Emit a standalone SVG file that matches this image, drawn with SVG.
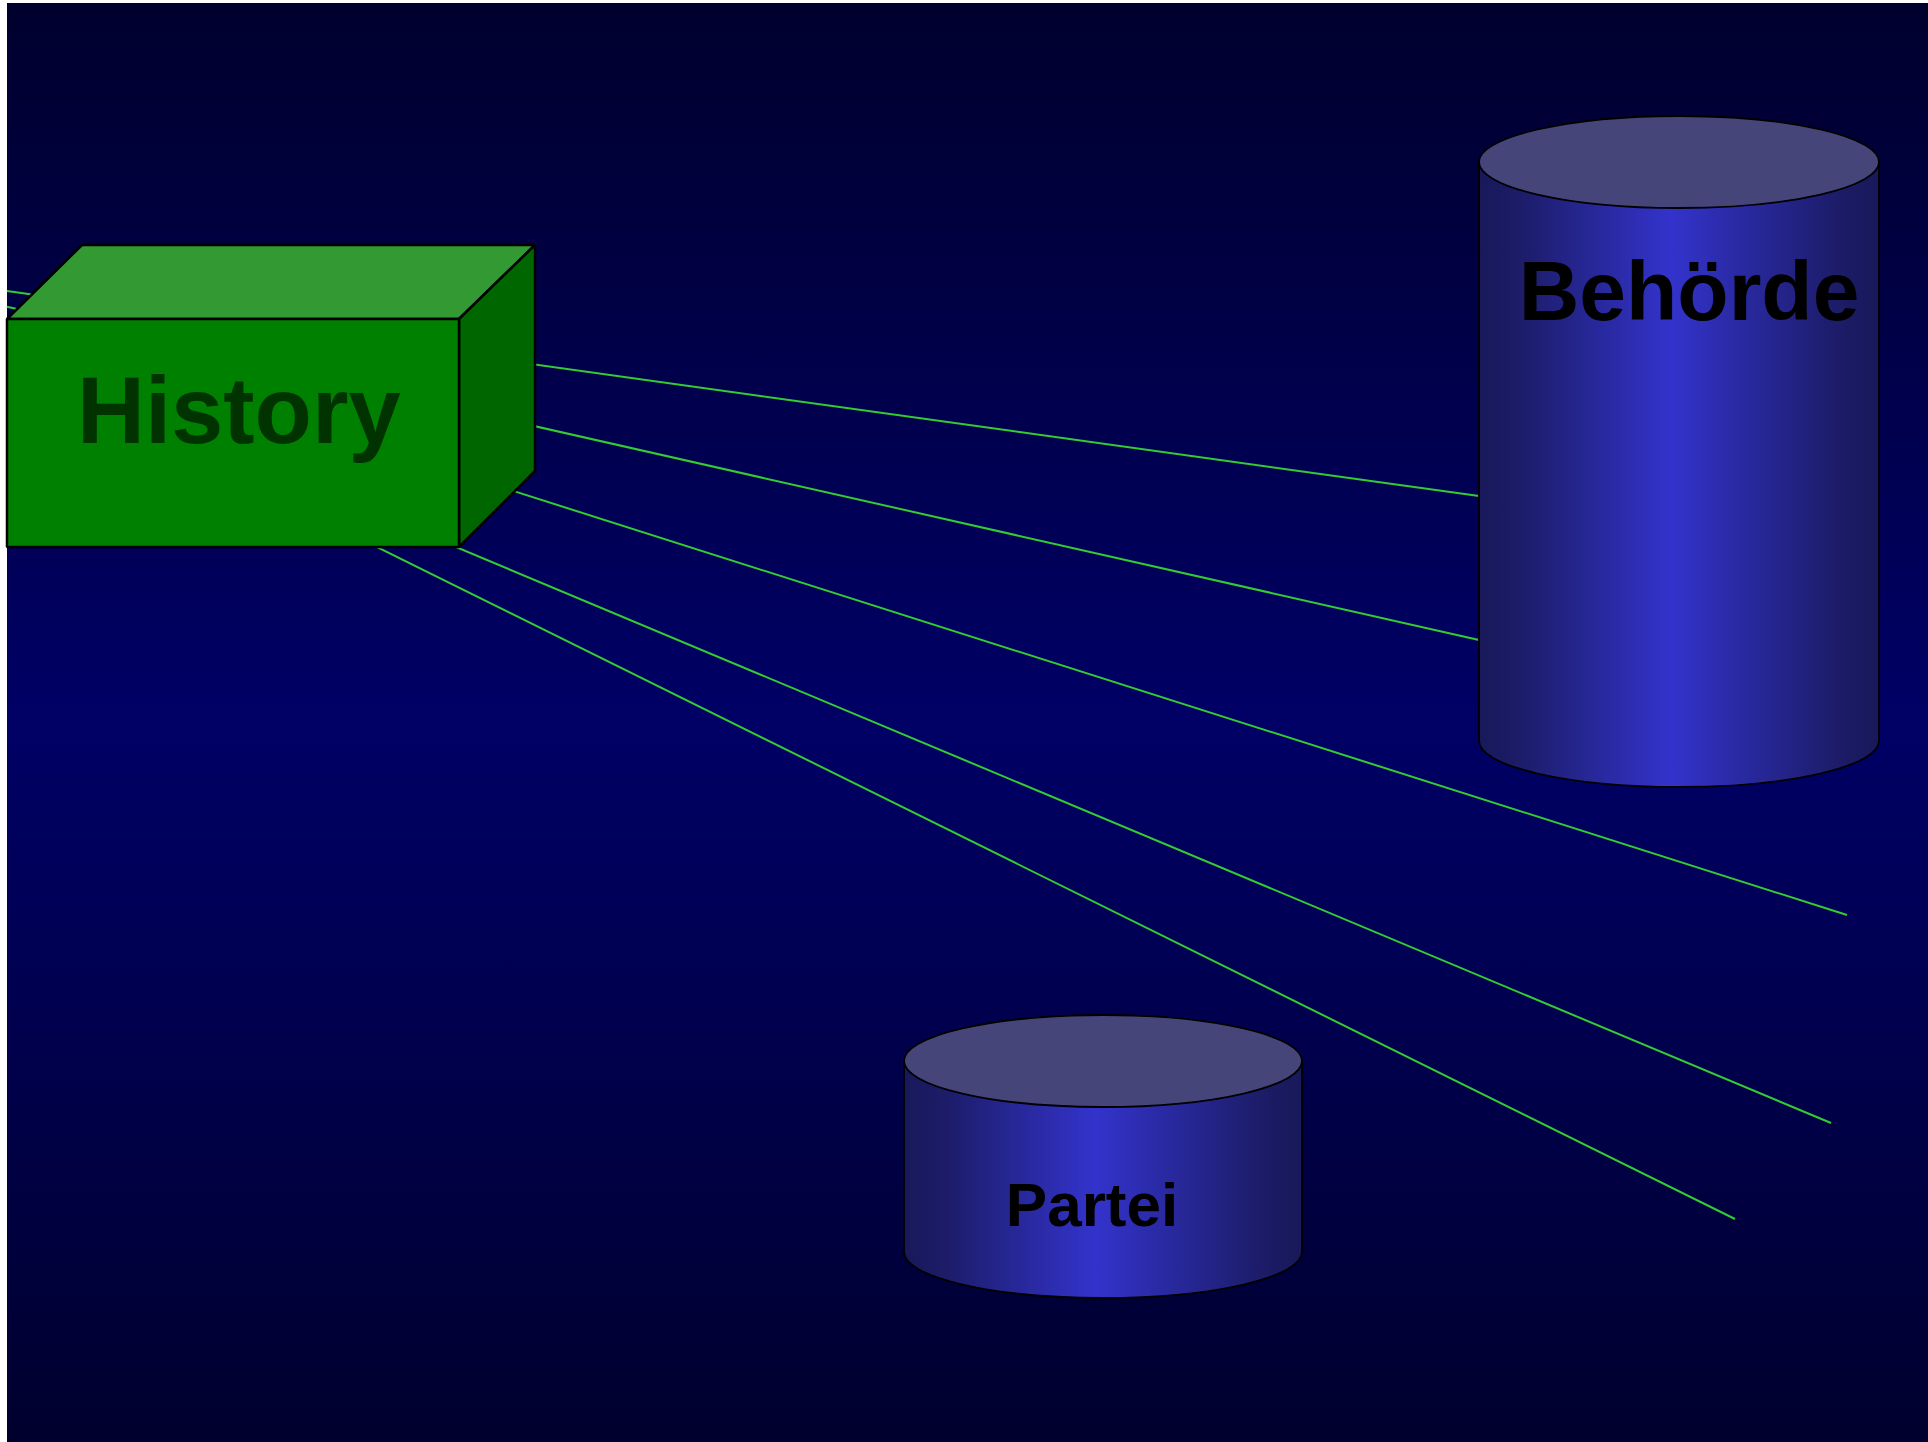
<svg xmlns="http://www.w3.org/2000/svg" width="1928" height="1442" viewBox="0 0 1928 1442">
<defs>
<linearGradient id="bg" x1="0" y1="0" x2="0" y2="1">
<stop offset="0" stop-color="#00002e"/>
<stop offset="0.5" stop-color="#000066"/>
<stop offset="1" stop-color="#00002e"/>
</linearGradient>
<linearGradient id="cyl" x1="0" y1="0" x2="1" y2="0">
<stop offset="0" stop-color="#18185a"/>
<stop offset="0.1" stop-color="#1c1c68"/>
<stop offset="0.48" stop-color="#3333cc"/>
<stop offset="0.9" stop-color="#1c1c68"/>
<stop offset="1" stop-color="#18185a"/>
</linearGradient>
<style>
.ln{stroke:#33cc33;stroke-width:2;fill:none}
.bx{stroke:#000;stroke-width:2.5;stroke-linejoin:bevel}
.cb{fill:url(#cyl);stroke:#000;stroke-width:1.8}
.ct{fill:#45457a;stroke:#000;stroke-width:1.8}
.lbl{font-family:"Liberation Sans",Arial,sans-serif;font-weight:bold}
</style>
</defs>
<rect x="0" y="0" width="1928" height="1442" fill="#ffffff"/>
<rect x="7" y="3" width="1921" height="1439" fill="url(#bg)"/>
<g id="connectors">
<line class="ln" x1="7" y1="291" x2="1479" y2="496"/>
<line class="ln" x1="7" y1="306.7" x2="1479" y2="640"/>
<line class="ln" x1="7" y1="330" x2="1847" y2="915"/>
<line class="ln" x1="7" y1="359" x2="1831" y2="1123"/>
<line class="ln" x1="7" y1="364" x2="1735" y2="1219"/>
</g>
<g id="behoerde">
<path class="cb" d="M1479,162 L1479,741 A200,46 0 0 0 1879,741 L1879,162 Z"/>
<ellipse class="ct" cx="1679" cy="162" rx="200" ry="46"/>
<text class="lbl" x="1689" y="320" font-size="84" text-anchor="middle" fill="#000">Behörde</text>
</g>
<g id="partei">
<path class="cb" d="M904,1061 L904,1252 A199,46 0 0 0 1302,1252 L1302,1061 Z"/>
<ellipse class="ct" cx="1103" cy="1061" rx="199" ry="46"/>
<text class="lbl" x="1092" y="1226" font-size="62" text-anchor="middle" fill="#000">Partei</text>
</g>
<g id="history">
<polygon class="bx" fill="#339933" points="7,319 82,245 535,245 459,319"/>
<polygon class="bx" fill="#006600" points="459,319 535,245 535,471 459,547"/>
<rect class="bx" fill="#008000" x="7" y="319" width="452" height="228" stroke-linejoin="miter"/>
<text class="lbl" x="77" y="443" font-size="94" fill="#003300">History</text>
</g>
</svg>
